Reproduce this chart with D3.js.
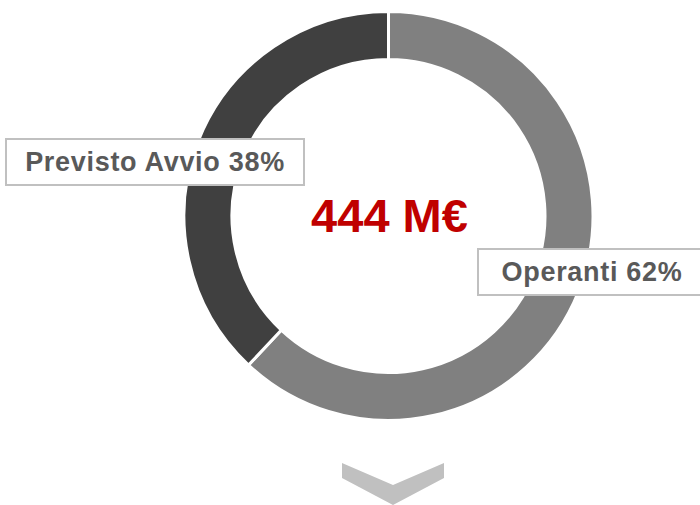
<!DOCTYPE html>
<html>
<head>
<meta charset="utf-8">
<script src="https://cdn.jsdelivr.net/npm/d3@7"></script>
<style>
  body { margin: 0; background: #fff; }
  #chart { width: 700px; height: 505px; }
</style>
</head>
<body>
<div id="chart"></div>
<script>
// chart data
const categories = ["Operanti", "Previsto Avvio"];
const shares = [62, 38];
const totalLabel = "444 M€";

const colors = ["#808080", "#404040"];

const width = 700, height = 505;
const cx = 388.5, cy = 216;
const outerR = 204.5, innerR = 156.5;

const svg = d3.select("#chart").append("svg")
    .attr("width", width)
    .attr("height", height)
    .style("background-color", "white");

const pie = d3.pie().sort(null).value(d => d.value);
const arc = d3.arc().innerRadius(innerR).outerRadius(outerR);

const slices = pie(categories.map((c, i) => ({ name: c, value: shares[i] })));

const donut = svg.append("g").attr("transform", "translate(" + cx + "," + cy + ")");

donut.selectAll("path.slice")
    .data(slices)
    .enter()
    .append("path")
    .attr("class", "slice")
    .attr("d", arc)
    .attr("fill", (d, i) => colors[i])
    .attr("stroke", "white")
    .attr("stroke-width", 3);

// center total
svg.append("text")
    .attr("x", cx + 1)
    .attr("y", cy + 16)
    .attr("text-anchor", "middle")
    .style("font-family", "Arial, 'Liberation Sans', sans-serif")
    .style("font-weight", "bold")
    .style("font-size", "47px")
    .style("fill", "#c00000")
    .text(totalLabel);

// label boxes (box x, y, w, h)
const labelBoxes = [
    { x: 478, y: 249, w: 226, h: 46 },
    { x: 6, y: 139, w: 298, h: 46 }
];

const labels = svg.selectAll("g.label")
    .data(slices)
    .enter()
    .append("g")
    .attr("class", "label");

labels.append("rect")
    .attr("x", (d, i) => labelBoxes[i].x)
    .attr("y", (d, i) => labelBoxes[i].y)
    .attr("width", (d, i) => labelBoxes[i].w)
    .attr("height", (d, i) => labelBoxes[i].h)
    .attr("fill", "white")
    .attr("stroke", "#c0c0c0")
    .attr("stroke-width", 2);

labels.append("text")
    .attr("x", (d, i) => i === 0 ? 592 : 155)
    .attr("y", (d, i) => labelBoxes[i].y + 32)
    .attr("text-anchor", "middle")
    .style("font-family", "Arial, 'Liberation Sans', sans-serif")
    .style("font-weight", "bold")
    .style("font-size", "27px")
    .style("letter-spacing", "0.7px")
    .style("fill", "#595959")
    .text(d => d.data.name + " " + d.data.value + "%");

// chevron below the donut
const chev = [[-46.5, 0], [-46.5, 15], [4.5, 42], [55.5, 15], [55.5, 0], [4.5, 22]];
svg.append("path")
    .attr("transform", "translate(" + cx + "," + 463 + ")")
    .attr("d", d3.line()(chev) + "Z")
    .attr("fill", "#c0c0c0");
</script>
</body>
</html>
